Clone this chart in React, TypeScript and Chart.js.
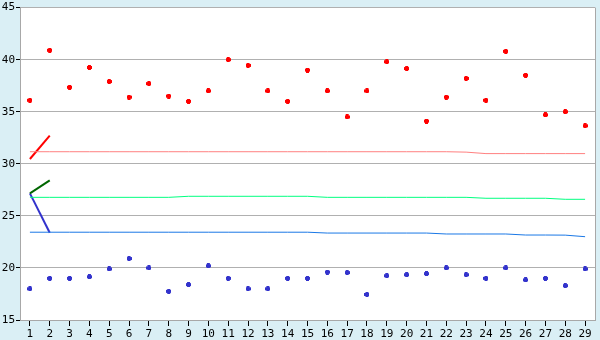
import React, { useEffect, useRef } from "react";
import { Chart, registerables } from "chart.js";

Chart.register(...registerables);

const categories = Array.from({ length: 29 }, (_, i) => String(i + 1));

const upperPoints = [36.1, 40.9, 37.35, 39.25, 37.9, 36.4, 37.7, 36.5, 36.0, 37.0, 40.0, 39.45, 37.0, 36.0, 39.0, 37.0, 34.5, 37.0, 39.8, 39.15, 34.1, 36.4, 38.2, 36.1, 40.8, 38.5, 34.7, 35.0, 33.65];
const lowerPoints = [18.0, 19.0, 19.0, 19.15, 19.9, 20.9, 20.0, 17.75, 18.4, 20.2, 19.0, 18.0, 18.0, 19.0, 19.0, 19.6, 19.55, 17.45, 19.25, 19.35, 19.45, 20.0, 19.35, 19.0, 20.0, 18.85, 19.0, 18.3, 19.9];

const pinkLine = [31.16, 31.16, 31.16, 31.16, 31.16, 31.16, 31.16, 31.16, 31.16, 31.16, 31.16, 31.16, 31.16, 31.16, 31.16, 31.16, 31.16, 31.16, 31.16, 31.16, 31.16, 31.16, 31.12, 30.98, 30.98, 30.98, 30.98, 30.98, 30.98];
const greenLine = [26.78, 26.78, 26.78, 26.78, 26.78, 26.78, 26.78, 26.78, 26.88, 26.88, 26.88, 26.88, 26.88, 26.88, 26.88, 26.78, 26.78, 26.78, 26.78, 26.78, 26.78, 26.78, 26.78, 26.69, 26.69, 26.69, 26.69, 26.59, 26.59];
const blueLine = [23.43, 23.43, 23.43, 23.43, 23.43, 23.43, 23.43, 23.43, 23.43, 23.43, 23.43, 23.43, 23.43, 23.43, 23.43, 23.35, 23.35, 23.35, 23.35, 23.35, 23.35, 23.26, 23.26, 23.26, 23.26, 23.16, 23.16, 23.15, 23.0];

const redSegment = [30.46, 32.71];
const greenSegment = [27.16, 28.4];
const blueSegment = [27.16, 23.38];

const yTicks = [15, 20, 25, 30, 35, 40, 45];

const pad = (arr: number[]) => [...arr, ...Array(29 - arr.length).fill(null)];

function plusMarker(color: string) {
  const c = document.createElement("canvas");
  c.width = 5;
  c.height = 5;
  const g = c.getContext("2d")!;
  g.fillStyle = color;
  g.fillRect(1, 0, 3, 5);
  g.fillRect(0, 1, 5, 3);
  return c;
}

export default function App() {
  const ref = useRef<HTMLCanvasElement>(null);
  useEffect(() => {
    document.body.style.margin = "0";
    const bg = {
      id: "bg",
      beforeDraw(chart: any) {
        const { ctx, chartArea: a } = chart;
        ctx.save();
        ctx.fillStyle = "#daeff5";
        ctx.fillRect(0, 0, chart.width, chart.height);
        ctx.fillStyle = "#ffffff";
        ctx.fillRect(a.left, a.top, a.right - a.left, a.bottom - a.top);
        ctx.restore();
      },
      afterDraw(chart: any) {
        const { ctx, chartArea: a } = chart;
        ctx.save();
        ctx.strokeStyle = "#a8a8a8";
        ctx.lineWidth = 1;
        ctx.beginPath();
        ctx.moveTo(Math.round(a.right) + 0.5, a.top);
        ctx.lineTo(Math.round(a.right) + 0.5, a.bottom);
        ctx.stroke();
        ctx.restore();
      },
    };
    const font = { family: "DejaVu Sans Mono", size: 11 };
    const chart = new Chart(ref.current!, {
      type: "line",
      data: {
        labels: categories,
        datasets: [
          { data: pinkLine, borderColor: "#ff8080", borderWidth: 1, pointRadius: 0 },
          { data: greenLine, borderColor: "#00ff80", borderWidth: 1, pointRadius: 0 },
          { data: blueLine, borderColor: "#1a78e6", borderWidth: 1, pointRadius: 0 },
          { data: pad(redSegment), borderColor: "#ff0000", borderWidth: 2, pointRadius: 0 },
          { data: pad(greenSegment), borderColor: "#006600", borderWidth: 2, pointRadius: 0 },
          { data: pad(blueSegment), borderColor: "#3333cc", borderWidth: 2, pointRadius: 0 },
          { data: upperPoints, showLine: false, pointRadius: 3, pointStyle: plusMarker("#ff0000") as any },
          { data: lowerPoints, showLine: false, pointRadius: 3, pointStyle: plusMarker("#3333cc") as any },
        ],
      },
      options: {
        animation: false,
        responsive: false,
        maintainAspectRatio: false,
        layout: { padding: { top: 5, right: 5, left: 0, bottom: 0 } },
        plugins: { legend: { display: false }, tooltip: { enabled: false } },
        scales: {
          x: {
            offset: true,
            grid: { drawOnChartArea: false, offset: false, tickLength: 6, tickColor: "#000000" },
            border: { color: "#a8a8a8" },
            ticks: { color: "#000000", font, padding: 2, maxRotation: 0, autoSkip: false },
            afterFit(s: any) { s.height = 20; },
          },
          y: {
            min: 15,
            max: 45,
            afterBuildTicks(s: any) { s.ticks = yTicks.map((v) => ({ value: v })); },
            grid: { color: "#b0b0b0", tickLength: 4, tickColor: "#000000" },
            border: { color: "#a8a8a8" },
            ticks: { color: "#000000", font, padding: 1 },
            afterFit(s: any) { s.width = 20; },
          },
        },
      },
      plugins: [bg],
    });
    return () => chart.destroy();
  }, []);
  return (
    <div style={{ width: 600, height: 340 }}>
      <canvas ref={ref} width={600} height={340} style={{ display: "block" }} />
    </div>
  );
}
